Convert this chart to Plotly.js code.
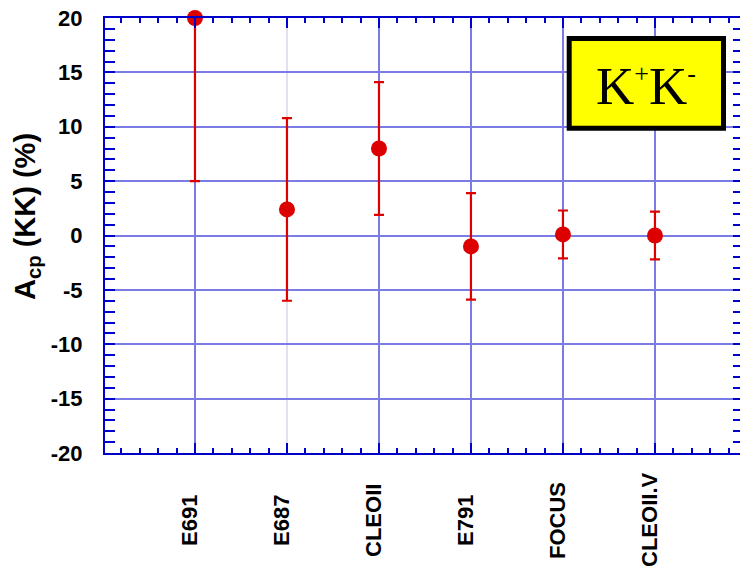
<!DOCTYPE html>
<html>
<head>
<meta charset="utf-8">
<script src="https://cdn.plot.ly/plotly-3.0.1.min.js"></script>
<style>
  html, body { margin: 0; padding: 0; overflow: hidden; background: #ffffff; }
  #chart { width: 745px; height: 571px; }
</style>
</head>
<body>
<div id="chart"></div>
<script>
// Experiments and their measured CP asymmetry in D0 -> K+K- (percent)
const categories = ['E691', 'E687', 'CLEOII', 'E791', 'FOCUS', 'CLEOII.V'];
const acp = [20.0, 2.4, 8.0, -1.0, 0.1, 0.0];
const acpErr = [15.0, 8.4, 6.1, 4.9, 2.2, 2.2];

// Y axis tick labels (plain hyphen minus signs)
const yTickVals = [-20, -15, -10, -5, 0, 5, 10, 15, 20];
const yTickText = ['-20', '-15', '-10', '-5', '0', '5', '10', '15', '20'];

const yTitle = 'A<sub>cp</sub> (KK) (%)';
const boxLabel = 'K<sup><span style="font-size:26px">+</span></sup>K<sup><span style="font-size:26px">-</span></sup>';

const xPos = categories.map((_, i) => i + 1);
// vertical grid drawn at every experiment except the pale E687 line
const paleIndex = 1;
const gridPos = xPos.filter((_, i) => i !== paleIndex);

const AXIS = '#0000cc';
const GRID = '#7b7be6';
const RED = '#dd0000';
const SANS = 'Arial, "Liberation Sans", sans-serif';
const X_RANGE = [0.022, 6.957];

// Plot area in pixels, used to place paper-referenced decorations
const PL = 105, PR = 743, PT = 18, PB = 453;
const px = (x) => (x - PL) / (PR - PL);
const py = (y) => (PB - y) / (PB - PT);

const traces = [
  {
    // carries the overlay axis that draws the vertical grid
    x: [], y: [], type: 'scatter', mode: 'markers', xaxis: 'x2', hoverinfo: 'skip'
  },
  {
    // error bars, clipped to the frame
    x: xPos, y: acp, type: 'scatter', mode: 'markers',
    marker: { size: 16, color: RED, opacity: 0 },
    error_y: { type: 'data', array: acpErr, visible: true, color: RED, thickness: 2.2, width: 5 },
    cliponaxis: true, hoverinfo: 'skip'
  },
  {
    // central values, drawn in full even on the frame edge
    x: xPos, y: acp, type: 'scatter', mode: 'markers',
    marker: { size: 16, color: RED },
    cliponaxis: false, hoverinfo: 'skip'
  }
];

const xLabels = categories.map((c, i) => ({
  xref: 'x', yref: 'paper', x: xPos[i], y: py(520),
  xanchor: 'center', yanchor: 'middle', xshift: -6,
  text: c, textangle: -90, showarrow: false,
  font: { family: SANS, size: 22, color: '#000000', weight: 'bold' }
}));

const layout = {
  width: 745, height: 571,
  margin: { l: PL, r: 745 - PR, t: PT, b: 571 - PB, pad: 0 },
  paper_bgcolor: '#ffffff', plot_bgcolor: '#ffffff',
  showlegend: false,
  hovermode: false,
  xaxis: {
    range: X_RANGE,
    tickmode: 'array', tickvals: xPos, showticklabels: false,
    ticks: 'inside', ticklen: 10, tickwidth: 2, tickcolor: AXIS,
    showline: true, linecolor: AXIS, linewidth: 2, mirror: 'allticks',
    showgrid: false, zeroline: false,
    minor: { tickmode: 'linear', tick0: 0, dtick: 0.2, ticks: 'inside', ticklen: 5, tickwidth: 2, tickcolor: AXIS, showgrid: false }
  },
  xaxis2: {
    overlaying: 'x', side: 'bottom', range: X_RANGE,
    tickmode: 'array', tickvals: gridPos, showticklabels: false, ticks: '',
    showline: false, zeroline: false,
    showgrid: true, gridcolor: GRID, gridwidth: 2
  },
  yaxis: {
    range: [-20, 20],
    tickmode: 'array', tickvals: yTickVals, ticktext: yTickText,
    ticks: 'inside', ticklen: 10, tickwidth: 2, tickcolor: AXIS,
    showline: true, linecolor: AXIS, linewidth: 2, mirror: 'allticks',
    showgrid: true, gridcolor: GRID, gridwidth: 2, zeroline: false,
    tickfont: { family: SANS, size: 22, color: '#000000', weight: 'bold' },
    ticklabelstandoff: 16,
    minor: { tickmode: 'linear', tick0: 0, dtick: 1, ticks: 'inside', ticklen: 5, tickwidth: 2, tickcolor: AXIS, showgrid: false }
  },
  shapes: [
    {
      // pale grid line at E687
      type: 'line', xref: 'x', yref: 'paper', x0: xPos[paleIndex], x1: xPos[paleIndex], y0: 0, y1: 1,
      line: { color: '#e0e0f0', width: 2 }, layer: 'below'
    },
    {
      // yellow label box
      type: 'rect', xref: 'paper', yref: 'paper',
      x0: px(569.2), x1: px(723.5), y0: py(128.2), y1: py(38.5),
      fillcolor: '#ffff00', line: { color: '#000000', width: 5 }, layer: 'above'
    }
  ],
  annotations: xLabels.concat([
    {
      xref: 'paper', yref: 'paper', x: px(27), y: py(217),
      xanchor: 'center', yanchor: 'middle',
      text: yTitle, textangle: -90, showarrow: false,
      font: { family: SANS, size: 29, color: '#000000', weight: 'bold' }
    },
    {
      xref: 'paper', yref: 'paper', x: px(646), y: py(86),
      xanchor: 'center', yanchor: 'middle',
      text: boxLabel, showarrow: false,
      font: { family: '"Times New Roman", "Liberation Serif", serif', size: 53, color: '#000000' }
    }
  ])
};

Plotly.newPlot('chart', traces, layout, { staticPlot: true, displayModeBar: false });
</script>
</body>
</html>
